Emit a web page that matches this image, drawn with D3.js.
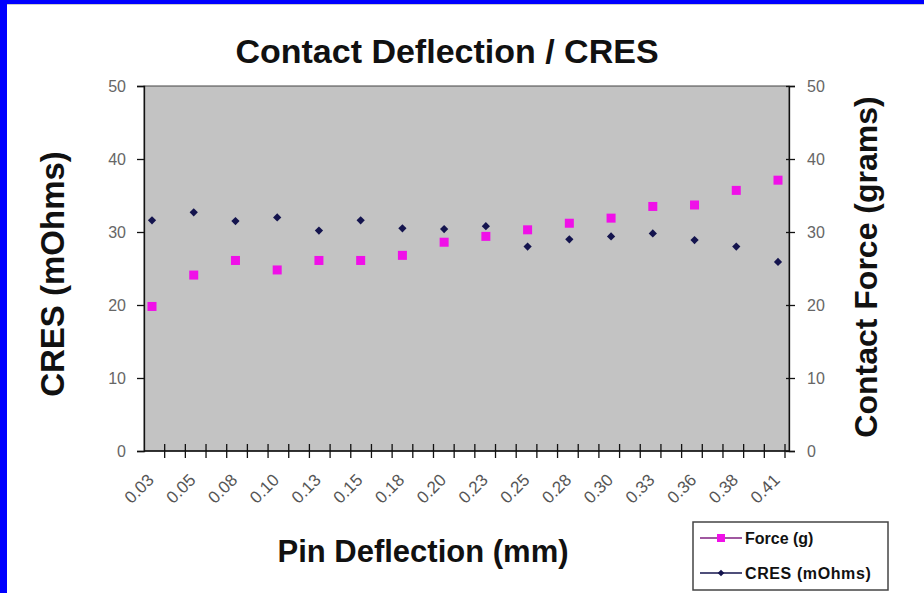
<!DOCTYPE html>
<html>
<head>
<meta charset="utf-8">
<script src="https://cdn.jsdelivr.net/npm/d3@7"></script>
<style>
  html, body { margin: 0; padding: 0; background: #fff; }
  text { font-family: "Liberation Sans", Arial, sans-serif; }
</style>
</head>
<body>
<script>
// pin deflection categories (mm)
var deflection = ["0.03", "0.05", "0.08", "0.10", "0.13", "0.15", "0.18", "0.20",
                  "0.23", "0.25", "0.28", "0.30", "0.33", "0.36", "0.38", "0.41"];
// contact force (g) - right axis
var force = [19.8, 24.1, 26.1, 24.8, 26.1, 26.1, 26.8, 28.6,
             29.4, 30.3, 31.2, 31.9, 33.5, 33.7, 35.7, 37.1];
// contact resistance (mOhms) - left axis
var cres = [31.6, 32.7, 31.5, 32.0, 30.2, 31.6, 30.5, 30.4,
            30.8, 28.0, 29.0, 29.4, 29.8, 28.9, 28.0, 25.9];
var yTicks = [0, 10, 20, 30, 40, 50];

var width = 924,
    height = 593;

var plot = {left: 144, right: 789, top: 86, bottom: 451};

var svg = d3.select("body").append("svg")
    .attr("width", width)
    .attr("height", height);

// frame
svg.append("rect").attr("x", 0).attr("y", 0).attr("width", width).attr("height", height).attr("fill", "#fff");
svg.append("rect").attr("x", 0).attr("y", 0).attr("width", width).attr("height", 4).attr("fill", "#0000ff");
svg.append("rect").attr("x", 0).attr("y", 0).attr("width", 7).attr("height", height).attr("fill", "#0000ff");
svg.append("line").attr("x1", 7).attr("x2", width).attr("y1", 4.5).attr("y2", 4.5).attr("stroke", "#ccc");

var x = d3.scalePoint()
    .domain(deflection)
    .range([plot.left + 8, plot.right - 11]);

var yLeft = d3.scaleLinear().domain([0, 50]).range([plot.bottom, plot.top]);
var yRight = d3.scaleLinear().domain([0, 50]).range([plot.bottom, plot.top]);

// plot area
svg.append("rect")
    .attr("x", plot.left)
    .attr("y", plot.top)
    .attr("width", plot.right - plot.left)
    .attr("height", plot.bottom - plot.top)
    .attr("fill", "#c3c3c3")
    .attr("stroke", "#444")
    .attr("stroke-width", 1);

// left axis
var leftAxis = svg.append("g")
    .attr("transform", "translate(" + plot.left + ",0)")
    .call(d3.axisLeft(yLeft).tickValues(yTicks).tickSize(7).tickPadding(11));
leftAxis.select(".domain").attr("stroke", "#111").attr("stroke-width", 1.3);
leftAxis.selectAll(".tick line").attr("stroke", "#111").attr("stroke-width", 1.3);
leftAxis.selectAll("text")
    .attr("fill", "#666")
    .style("font-size", "16px")
    .style("font-family", "'Liberation Sans', Arial, sans-serif");

// right axis
var rightAxis = svg.append("g")
    .attr("transform", "translate(" + plot.right + ",0)")
    .call(d3.axisRight(yRight).tickValues(yTicks).tickSize(6).tickPadding(12));
rightAxis.select(".domain").attr("stroke", "#111").attr("stroke-width", 1.3);
rightAxis.selectAll(".tick line").attr("stroke", "#111").attr("stroke-width", 1.3).attr("x1", -3);
rightAxis.selectAll("text")
    .attr("fill", "#666")
    .style("font-size", "16px")
    .style("font-family", "'Liberation Sans', Arial, sans-serif");

// bottom axis: baseline with crossing tick marks every half step
var tickScale = d3.scaleLinear().domain([0, 31]).range([plot.left, plot.right - 4]);
svg.append("line")
    .attr("x1", plot.left).attr("x2", plot.right)
    .attr("y1", plot.bottom).attr("y2", plot.bottom)
    .attr("stroke", "#111").attr("stroke-width", 1.3);
svg.selectAll(".xtick")
    .data(d3.range(1, 32))
    .enter().append("line")
    .attr("class", "xtick")
    .attr("x1", function(d) { return tickScale(d); })
    .attr("x2", function(d) { return tickScale(d); })
    .attr("y1", plot.bottom - 7)
    .attr("y2", plot.bottom + 7)
    .attr("stroke", "#111")
    .attr("stroke-width", 1.3);

svg.selectAll(".xlabel")
    .data(deflection)
    .enter().append("text")
    .attr("class", "xlabel")
    .attr("transform", function(d) { return "translate(" + (x(d) + 3) + "," + 481 + ") rotate(-45)"; })
    .attr("text-anchor", "end")
    .attr("fill", "#555")
    .style("font-size", "17px")
    .text(function(d) { return d; });

// CRES diamonds (square turned 45 degrees)
var diamond = d3.symbol().type(d3.symbolSquare).size(34);
svg.selectAll(".cres")
    .data(cres)
    .enter().append("path")
    .attr("class", "cres")
    .attr("d", diamond)
    .attr("transform", function(d, i) { return "translate(" + x(deflection[i]) + "," + yLeft(d) + ") rotate(45)"; })
    .attr("fill", "#14144e");

// force squares
svg.selectAll(".force")
    .data(force)
    .enter().append("rect")
    .attr("class", "force")
    .attr("x", function(d, i) { return x(deflection[i]) - 4.5; })
    .attr("y", function(d) { return yRight(d) - 4.5; })
    .attr("width", 9)
    .attr("height", 9)
    .attr("fill", "#f010e8");

// titles
svg.append("text")
    .attr("x", 447).attr("y", 63)
    .attr("text-anchor", "middle")
    .style("font-size", "34px").style("font-weight", "bold")
    .attr("fill", "#111")
    .text("Contact Deflection / CRES");

svg.append("text")
    .attr("x", 423).attr("y", 562)
    .attr("text-anchor", "middle")
    .style("font-size", "31px").style("font-weight", "bold")
    .attr("fill", "#111")
    .text("Pin Deflection (mm)");

svg.append("text")
    .attr("transform", "translate(64,274) rotate(-90)")
    .attr("text-anchor", "middle")
    .style("font-size", "33px").style("font-weight", "bold")
    .attr("fill", "#111")
    .text("CRES (mOhms)");

svg.append("text")
    .attr("transform", "translate(877,267) rotate(-90)")
    .attr("text-anchor", "middle")
    .style("font-size", "32px").style("font-weight", "bold")
    .attr("fill", "#111")
    .text("Contact Force (grams)");

// legend
var legend = svg.append("g");
legend.append("rect")
    .attr("x", 693).attr("y", 522)
    .attr("width", 195).attr("height", 68)
    .attr("fill", "#fff")
    .attr("stroke", "#444")
    .attr("stroke-width", 1.5);

var items = [
  {name: "Force (g)", line: "#802080", y: 538},
  {name: "CRES (mOhms)", line: "#14144e", y: 573}
];
items.forEach(function(it, i) {
  legend.append("line")
      .attr("x1", 700).attr("x2", 742)
      .attr("y1", it.y).attr("y2", it.y)
      .attr("stroke", it.line).attr("stroke-width", 1.3);
  if (i == 0) {
    legend.append("rect")
        .attr("x", 717).attr("y", it.y - 4)
        .attr("width", 8).attr("height", 8)
        .attr("fill", "#f010e8");
  } else {
    legend.append("path")
        .attr("d", d3.symbol().type(d3.symbolSquare).size(22))
        .attr("transform", "translate(721," + it.y + ") rotate(45)")
        .attr("fill", "#14144e");
  }
  legend.append("text")
      .attr("x", 745).attr("y", it.y)
      .attr("dy", "0.36em")
      .style("font-size", "16px").style("font-weight", "bold")
      .style("letter-spacing", i == 1 ? "0.6px" : "0px")
      .attr("fill", "#111")
      .text(it.name);
});
</script>
</body>
</html>
